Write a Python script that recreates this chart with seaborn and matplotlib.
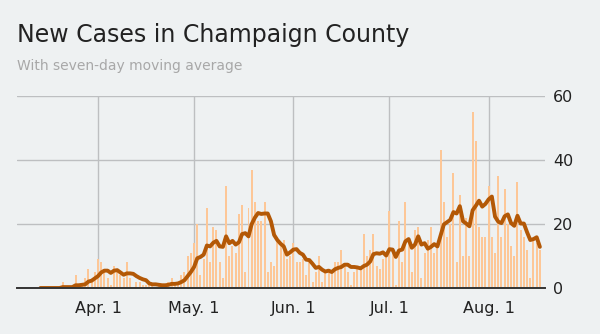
import numpy as np
import pandas as pd
import matplotlib
matplotlib.use("Agg")
import matplotlib.pyplot as plt
import seaborn as sns

# ---- data ----
start_date = "2020-03-14"
new_cases = [
    0, 0, 0, 0, 0, 0, 0, 2, 0, 0,        # Mar 14-23
    0, 4, 0, 1, 3, 6, 2, 5, 9, 8,        # Mar 24 - Apr 2
    5, 3, 1, 7, 6, 4, 3, 8, 3, 0,        # Apr 3-12
    2, 2, 1, 1, 1, 1, 0, 1, 1, 1,        # Apr 13-22
    2, 3, 1, 1, 4, 5, 10, 11, 14, 20,    # Apr 23 - May 2
    4, 9, 25, 8, 19, 18, 8, 3, 32, 10,   # May 3-12
    13, 11, 23, 26, 5, 25, 37, 27, 21, 21,  # May 13-22
    27, 5, 8, 7, 16, 13, 15, 9, 10, 14,  # May 23 - Jun 1
    8, 8, 9, 4, 8, 2, 5, 10, 2, 5,       # Jun 2-11
    6, 5, 8, 8, 12, 7, 5, 1, 5, 7,       # Jun 12-21
    6, 17, 10, 12, 17, 7, 6, 9, 10, 24,  # Jun 22 - Jul 1
    11, 1, 21, 8, 27, 15, 5, 18, 19, 3,  # Jul 2-11
    11, 15, 19, 11, 13, 43, 27, 16, 20, 36,  # Jul 12-21
    8, 29, 10, 22, 10, 55, 46, 19, 16, 16,   # Jul 22-31
    32, 16, 11, 35, 16, 31, 20, 13, 10, 33,  # Aug 1-10
    18, 16, 12, 3, 15, 14, 12,               # Aug 11-17
]
tick_dates = ["2020-04-01", "2020-05-01", "2020-06-01", "2020-07-01", "2020-08-01"]
tick_labels = ["Apr. 1", "May. 1", "Jun. 1", "Jul. 1", "Aug. 1"]
y_ticks = [0, 20, 40, 60]
title = "New Cases in Champaign County"
subtitle = "With seven-day moving average"

# ---- styling ----
bg = "#eef1f2"
bar_color = "#fdc797"
line_color = "#b35806"
grid_color = "#bdbfc1"
text_color = "#222222"

dates = pd.date_range(start_date, periods=len(new_cases), freq="D")
df = pd.DataFrame({"date": dates, "cases": new_cases})
df["day"] = np.arange(len(df))
df["avg"] = df["cases"].rolling(7, min_periods=1).mean()

sns.set_theme(style="white")
plt.rcParams["font.family"] = ["DejaVu Sans"]

fig = plt.figure(figsize=(6, 3.34), dpi=100, facecolor=bg)
ax = fig.add_axes([17 / 600, 46 / 334, 528 / 600, 192 / 334])
ax.set_facecolor(bg)
ax.set_axisbelow(True)

sns.barplot(data=df, x="day", y="cases", native_scale=True, color=bar_color,
            saturation=1, width=0.62, linewidth=0, ax=ax)
sns.lineplot(data=df, x="day", y="avg", color=line_color, lw=2.8, ax=ax,
             solid_capstyle="round", solid_joinstyle="round", zorder=4)

start = pd.Timestamp(start_date)
tick_pos = [(pd.Timestamp(d) - start).days for d in tick_dates]
ax.set_xticks(tick_pos)
ax.set_xticklabels(tick_labels)
ax.set_xlim(-7.3, 157.6)
ax.set_ylim(0, 60)
ax.set_yticks(y_ticks)
ax.yaxis.tick_right()
ax.set_xlabel("")
ax.set_ylabel("")

ax.grid(True, axis="both", color=grid_color, lw=1)
for s in ["top", "left", "right"]:
    ax.spines[s].set_visible(False)
ax.spines["bottom"].set_color("#333333")
ax.spines["bottom"].set_linewidth(1.4)
ax.spines["bottom"].set_zorder(5)

ax.tick_params(axis="y", length=0, pad=6, labelsize=11.5, labelcolor=text_color)
ax.tick_params(axis="x", length=0, pad=9, labelsize=11.5, labelcolor=text_color)

fig.text(17 / 600, 1 - 42 / 334, title, fontsize=17, color=text_color,
         ha="left", va="baseline")
fig.text(17 / 600, 1 - 70 / 334, subtitle, fontsize=10, color="#a8a8a8",
         ha="left", va="baseline")

fig.savefig("out.png", dpi=100, facecolor=bg)
